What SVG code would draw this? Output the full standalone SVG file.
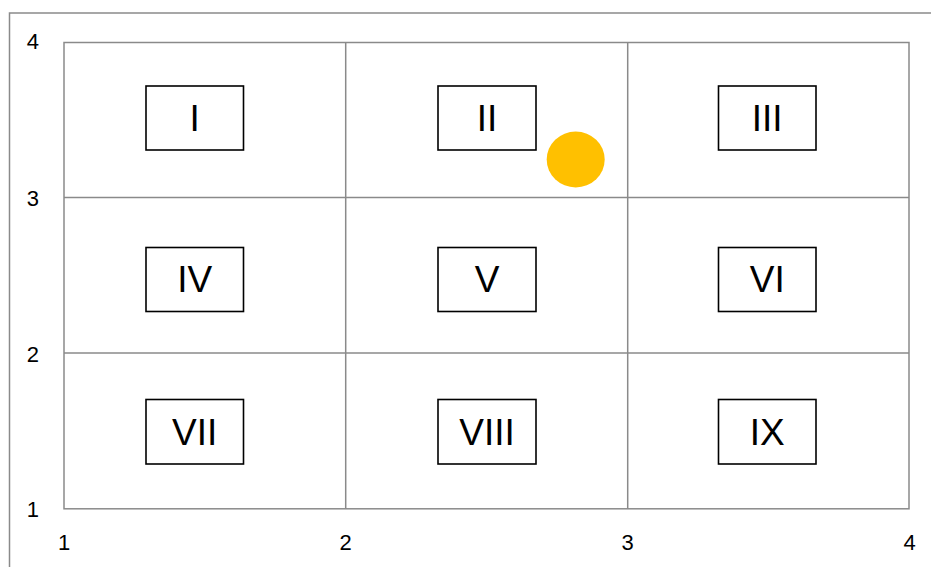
<svg xmlns="http://www.w3.org/2000/svg" width="931" height="567" viewBox="0 0 931 567">
  <style>
    .frame { fill: none; stroke: #8a8a8a; stroke-width: 1.5; }
    .grid { stroke: #8a8a8a; stroke-width: 1.5; fill: none; }
    .axis { font-family: "Liberation Sans", Arial, sans-serif; font-size: 22px; fill: #000; }
    .zone rect { fill: #fff; stroke: #000; stroke-width: 1.6; }
    .zone text { font-family: "Liberation Sans", Arial, sans-serif; font-size: 37px; fill: #000; text-anchor: middle; }
  </style>
  <rect width="931" height="567" fill="#fff"/>
  <!-- chart frame, open on the right and bottom -->
  <path class="frame" d="M9.5 567 V13 H931"/>

  <!-- plot area grid -->
  <g id="grid" class="grid">
    <rect x="64" y="42.5" width="845" height="466.3"/>
    <line x1="345.7" y1="42.5" x2="345.7" y2="508.8"/>
    <line x1="627.7" y1="42.5" x2="627.7" y2="508.8"/>
    <line x1="64" y1="197.5" x2="909" y2="197.5"/>
    <line x1="64" y1="353" x2="909" y2="353"/>
  </g>

  <!-- axis labels -->
  <g id="y-axis" class="axis" text-anchor="end">
    <text x="39" y="49">4</text>
    <text x="39" y="205.5">3</text>
    <text x="39" y="361.5">2</text>
    <text x="39" y="516.5">1</text>
  </g>
  <g id="x-axis" class="axis" text-anchor="middle">
    <text x="64" y="550">1</text>
    <text x="345.5" y="550">2</text>
    <text x="627.5" y="550">3</text>
    <text x="909.5" y="550">4</text>
  </g>

  <!-- zone labels -->
  <g id="zone-I" class="zone"><rect x="146" y="86" width="97.5" height="64"/><text x="194.7" y="131">I</text></g>
  <g id="zone-II" class="zone"><rect x="438" y="86" width="98" height="64"/><text x="487" y="131">II</text></g>
  <g id="zone-III" class="zone"><rect x="718.5" y="86" width="97.5" height="64"/><text x="767.2" y="131">III</text></g>
  <g id="zone-IV" class="zone"><rect x="146" y="247.5" width="97.5" height="64"/><text x="194.7" y="292.3">IV</text></g>
  <g id="zone-V" class="zone"><rect x="438" y="247.5" width="98" height="64"/><text x="487" y="292.3">V</text></g>
  <g id="zone-VI" class="zone"><rect x="718.5" y="247.5" width="97.5" height="64"/><text x="767.2" y="292.3">VI</text></g>
  <g id="zone-VII" class="zone"><rect x="146" y="399.5" width="97.5" height="64.5"/><text x="194.7" y="444.5">VII</text></g>
  <g id="zone-VIII" class="zone"><rect x="438" y="399.5" width="98" height="64.5"/><text x="487" y="444.5">VIII</text></g>
  <g id="zone-IX" class="zone"><rect x="718.5" y="399.5" width="97.5" height="64.5"/><text x="767.2" y="444.5">IX</text></g>

  <!-- data point -->
  <g id="point">
    <ellipse cx="575.7" cy="159.5" rx="29" ry="28" fill="#ffc000"/>
  </g>
  <g id="connectors"/>
</svg>
